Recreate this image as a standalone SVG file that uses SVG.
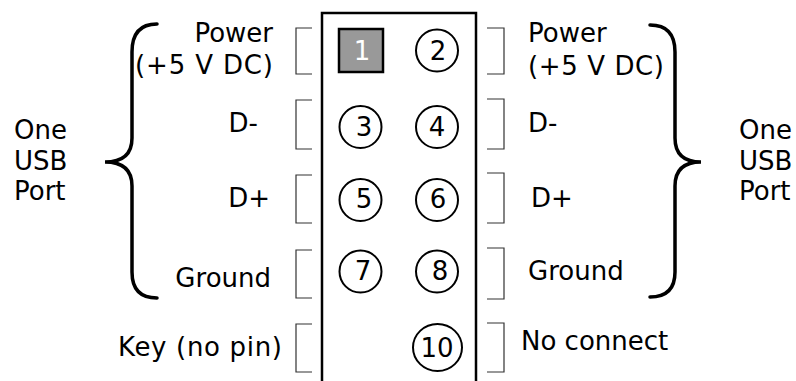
<svg xmlns="http://www.w3.org/2000/svg" width="796" height="381" viewBox="0 0 796 381">
<style>
text{font-family:"DejaVu Sans","Verdana",sans-serif;font-size:26px;fill:#000}
.lab-r{text-anchor:end}
.num{text-anchor:middle}
.pin{fill:none;stroke:#000;stroke-width:2}
.brk{fill:none;stroke:#333;stroke-width:1.2}
.brace{fill:none;stroke:#000;stroke-width:3.5;stroke-linecap:round}
</style>
<rect width="796" height="381" fill="#fff"/>
<g id="header">
<path d="M322,382 L322,13 L476,13 L476,382" fill="none" stroke="#000" stroke-width="2.5"/>
</g>
<g id="pins">
<g id="pin1"><rect x="339" y="29" width="44" height="43" fill="#999" stroke="#000" stroke-width="2.5"/><text class="num" x="362" y="59.5" style="fill:#fff">1</text></g>
<g id="pin2"><circle class="pin" cx="437" cy="50.5" r="21"/><text class="num" x="438" y="59.5">2</text></g>
<g id="pin3"><circle class="pin" cx="360.5" cy="127" r="21"/><text class="num" x="364" y="135.5">3</text></g>
<g id="pin4"><circle class="pin" cx="437" cy="127" r="21"/><text class="num" x="437" y="135.5">4</text></g>
<g id="pin5"><circle class="pin" cx="360.5" cy="200" r="21"/><text class="num" x="364" y="207.5">5</text></g>
<g id="pin6"><circle class="pin" cx="437" cy="200" r="21"/><text class="num" x="438" y="207.5">6</text></g>
<g id="pin7"><circle class="pin" cx="360.5" cy="271.5" r="21"/><text class="num" x="363" y="279.5">7</text></g>
<g id="pin8"><circle class="pin" cx="437" cy="271.5" r="21"/><text class="num" x="440" y="279.5">8</text></g>
<g id="pin10"><ellipse class="pin" cx="437.5" cy="347.5" rx="24.5" ry="23.5"/><text class="num" x="437" y="356.5">10</text></g>
</g>
<g id="brackets-left">
<path class="brk" d="M312,28 H296 V74 H312"/>
<path class="brk" d="M312,100 H296 V149 H312"/>
<path class="brk" d="M312,175 H296 V223 H312"/>
<path class="brk" d="M312,250 H296 V298 H312"/>
<path class="brk" d="M312,324 H296 V372 H312"/>
</g>
<g id="brackets-right">
<path class="brk" d="M487,28 H504 V74 H487"/>
<path class="brk" d="M487,99 H504 V149 H487"/>
<path class="brk" d="M487,173 H504 V223 H487"/>
<path class="brk" d="M487,248 H504 V299 H487"/>
<path class="brk" d="M487,323 H504 V372 H487"/>
</g>
<g id="labels-left">
<text class="lab-r" x="273" y="42">Power</text>
<text class="lab-r" x="273" y="74" textLength="138" lengthAdjust="spacing">(+5 V DC)</text>
<text class="lab-r" x="258" y="132">D-</text>
<text class="lab-r" x="270" y="207">D+</text>
<text class="lab-r" x="271" y="287">Ground</text>
<text class="lab-r" x="282" y="356" textLength="164" lengthAdjust="spacing">Key (no pin)</text>
</g>
<g id="labels-right">
<text x="528" y="42">Power</text>
<text x="528" y="75" textLength="136" lengthAdjust="spacing">(+5 V DC)</text>
<text x="528" y="132">D-</text>
<text x="531" y="207">D+</text>
<text x="528" y="280">Ground</text>
<text x="521" y="350">No connect</text>
</g>
<g id="brace-left">
<path class="brace" d="M157,24 Q132,24 132,52 L132,138 Q132,162 105,162 Q132,162 132,186 L132,272 Q132,298 157,298"/>
<text x="14" y="139">One</text>
<text x="14" y="170">USB</text>
<text x="14" y="200">Port</text>
</g>
<g id="brace-right">
<path class="brace" d="M650,25 Q675,25 675,52 L675,138 Q675,162 701,162 Q675,162 675,186 L675,272 Q675,297 650,297"/>
<text x="739" y="139">One</text>
<text x="739" y="170">USB</text>
<text x="739" y="200">Port</text>
</g>
</svg>
